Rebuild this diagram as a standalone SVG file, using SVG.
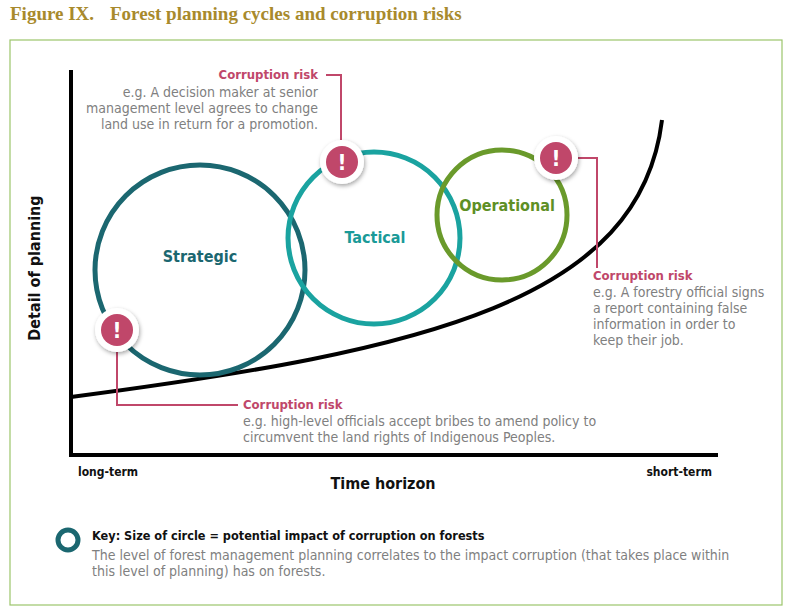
<svg xmlns="http://www.w3.org/2000/svg" width="794" height="614" viewBox="0 0 794 614">
<style>
text{font-family:"DejaVu Sans Condensed","Liberation Sans Narrow","Roboto Condensed","Liberation Sans",sans-serif}
.risk{fill:#c0476a;font-weight:bold;font-size:13px}
.g{fill:#808080;font-size:14px}
.lead{fill:none;stroke:#c0476a;stroke-width:2}
.badge{fill:#fff;filter:url(#sh)}
.lbl{font-weight:bold;font-size:16px;text-anchor:middle}
</style>
<defs>
<filter id="sh" x="-50%" y="-50%" width="200%" height="200%"><feDropShadow dx="1" dy="2" stdDeviation="2" flood-opacity="0.35"/></filter>
</defs>
<rect width="794" height="614" fill="#fff"/>
<text x="10" y="20" style="font-family:'Liberation Serif',serif;font-size:19px;fill:#a88a2c;font-weight:bold">Figure IX.<tspan x="110">Forest planning cycles and corruption risks</tspan></text>
<rect x="10" y="40" width="772" height="565" fill="none" stroke="#9cc56b" stroke-width="1.2"/>
<g id="axes" stroke="#000" stroke-width="4" fill="none">
<path d="M71,70 V455 H718"/>
<path d="M71,397 C430,350 640,300 662,120"/>
</g>
<g id="strategic"><circle cx="200" cy="270" r="105" fill="none" stroke="#1b6770" stroke-width="5"/><text class="lbl" x="200" y="262" fill="#1b6770">Strategic</text></g>
<g id="tactical"><circle cx="374" cy="238" r="86" fill="none" stroke="#1aa3a0" stroke-width="5"/><text class="lbl" x="375" y="243" fill="#1a9a98">Tactical</text></g>
<g id="operational"><circle cx="502" cy="215" r="65" fill="none" stroke="#6a9a2b" stroke-width="5"/><text class="lbl" x="507" y="211" fill="#5e8f25">Operational</text></g>
<g id="connectors">
<path class="lead" d="M341,140 V75 H326"/>
<path class="lead" d="M578,158 H597 V268"/>
<path class="lead" d="M117,352 V405 H238"/>
</g>
<g id="risk1"><circle class="badge" cx="342" cy="162" r="22"/><circle cx="342" cy="162" r="16" fill="#c0476a"/><text x="342" y="170" fill="#fff" font-weight="bold" font-size="22" text-anchor="middle">!</text>
<text class="risk" x="318" y="79" text-anchor="end">Corruption risk</text>
<text class="g" text-anchor="end"><tspan x="318" y="97">e.g. A decision maker at senior</tspan><tspan x="318" y="113">management level agrees to change</tspan><tspan x="318" y="129">land use in return for a promotion.</tspan></text></g>
<g id="risk2"><circle class="badge" cx="556" cy="158" r="22"/><circle cx="556" cy="158" r="16" fill="#c0476a"/><text x="556" y="166" fill="#fff" font-weight="bold" font-size="22" text-anchor="middle">!</text>
<text class="risk" x="593" y="280">Corruption risk</text>
<text class="g"><tspan x="593" y="297">e.g. A forestry official signs</tspan><tspan x="593" y="313">a report containing false</tspan><tspan x="593" y="329">information in order to</tspan><tspan x="593" y="345">keep their job.</tspan></text></g>
<g id="risk3"><circle class="badge" cx="117" cy="330" r="22"/><circle cx="117" cy="330" r="16" fill="#c0476a"/><text x="117" y="338" fill="#fff" font-weight="bold" font-size="22" text-anchor="middle">!</text>
<text class="risk" x="243" y="409">Corruption risk</text>
<text class="g"><tspan x="243" y="426">e.g. high-level officials accept bribes to amend policy to</tspan><tspan x="243" y="442">circumvent the land rights of Indigenous Peoples.</tspan></text></g>
<text x="40" y="268" transform="rotate(-90 40 268)" text-anchor="middle" font-size="16" font-weight="bold" fill="#111">Detail of planning</text>
<text x="383" y="489" text-anchor="middle" font-size="16" font-weight="bold" fill="#111">Time horizon</text>
<text x="78" y="476" font-size="12" font-weight="bold" fill="#111">long-term</text>
<text x="712" y="476" font-size="12" font-weight="bold" fill="#111" text-anchor="end">short-term</text>
<g id="key"><circle cx="68" cy="540" r="10" fill="none" stroke="#1b6770" stroke-width="5"/>
<text x="92" y="540" font-size="12.6" font-weight="bold" fill="#111">Key: Size of circle = potential impact of corruption on forests</text>
<text class="g"><tspan x="92" y="560">The level of forest management planning correlates to the impact corruption (that takes place within</tspan><tspan x="92" y="576">this level of planning) has on forests.</tspan></text></g>
</svg>
